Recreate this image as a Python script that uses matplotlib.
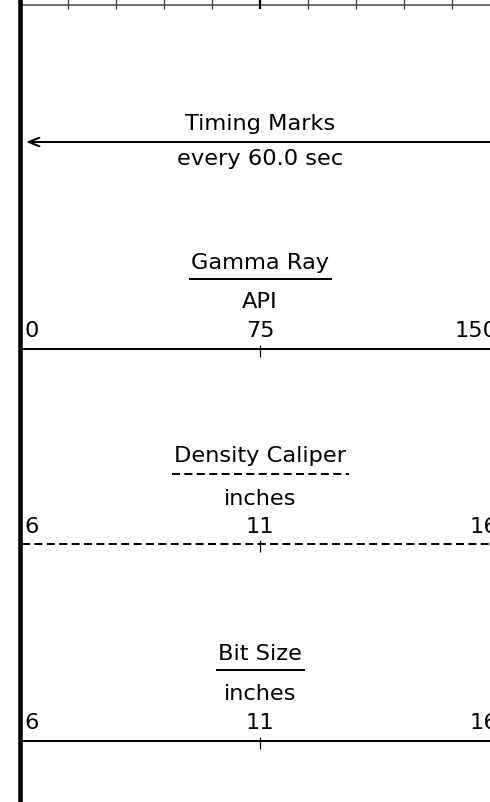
"""Well log header: timing marks and curve scale blocks."""

import matplotlib

matplotlib.use("Agg")
import matplotlib.pyplot as plt

# ---- data -------------------------------------------------------------
CURVE_NAMES = ["Gamma Ray", "Density Caliper", "Bit Size"]
CURVE_UNITS = ["API", "inches", "inches"]
SCALE_LEFT = [0, 6, 6]
SCALE_RIGHT = [150, 16, 16]
CURVE_DASHED = [False, True, False]
TIMING_LABEL = "Timing Marks"
TIMING_INTERVAL_SEC = 60.0
GRID_DIVISIONS = 10

# ---- layout (pixels) --------------------------------------------------
W, H = 490, 803
TRACK_LEFT, TRACK_RIGHT = 20, 500
FONT = 16.2
LW = 1.44  # 2 px at 100 dpi
NAME_Y = [269, 462, 660]
UNDERLINE_Y = [280, 475, 671]
UNIT_Y = [308, 505, 700]
LABEL_Y = [337.5, 533.5, 729.5]
LINE_Y = [349.5, 544.5, 742]
DASHES = (4.0, 2.2)

plt.rcParams["font.family"] = ["DejaVu Sans"]

fig = plt.figure(figsize=(W / 100, H / 100), dpi=100)
ax = fig.add_axes([0, 0, 1, 1])
ax.set_xlim(0, W)
ax.set_ylim(H, 0)
ax.axis("off")

track_w = TRACK_RIGHT - TRACK_LEFT
center = TRACK_LEFT + track_w / 2


def label(x, y, s, ha="center"):
    return ax.text(x, y, s, ha=ha, va="baseline", fontsize=FONT)


# top grid ruler
ax.plot([TRACK_LEFT, W + 10], [5.5, 5.5], color="#5a5a5a", lw=1.2, solid_capstyle="butt")
for i in range(1, GRID_DIVISIONS):
    x = TRACK_LEFT + i * track_w / GRID_DIVISIONS
    major = i == GRID_DIVISIONS // 2
    ax.plot([x, x], [0, 10], color="black" if major else "#3a3a3a",
            lw=1.6 if major else 0.9, solid_capstyle="butt")

# left track border
ax.plot([19.7, 19.7], [0, H], color="black", lw=3.3, solid_capstyle="butt")

# timing marks
label(center, 130, TIMING_LABEL)
ax.annotate("", xy=(26, 143), xytext=(W + 10, 143),
            arrowprops=dict(arrowstyle="->,head_length=0.55,head_width=0.22",
                            lw=LW, color="black", shrinkA=0, shrinkB=0,
                            mutation_scale=14))
label(center, 165, f"every {TIMING_INTERVAL_SEC:.1f} sec")

fig.canvas.draw()
renderer = fig.canvas.get_renderer()
inv = ax.transData.inverted()

for k, name in enumerate(CURVE_NAMES):
    dashed = CURVE_DASHED[k]
    t = label(center, NAME_Y[k], name)
    bb = t.get_window_extent(renderer)
    x0, _ = inv.transform((bb.x0, bb.y0))
    x1, _ = inv.transform((bb.x1, bb.y0))
    (ul,) = ax.plot([x0 - 2, x1 + 3], [UNDERLINE_Y[k]] * 2, color="black", lw=LW,
                    solid_capstyle="butt", dash_capstyle="butt")
    if dashed:
        ul.set_dashes(DASHES)

    label(center, UNIT_Y[k], CURVE_UNITS[k])

    lo, hi = SCALE_LEFT[k], SCALE_RIGHT[k]
    mid = (lo + hi) / 2

    def to_x(v, lo=lo, hi=hi):
        return TRACK_LEFT + (v - lo) / (hi - lo) * track_w

    label(to_x(lo) + 4, LABEL_Y[k], f"{lo:g}", ha="left")
    label(to_x(mid), LABEL_Y[k], f"{mid:g}")
    label(to_x(hi) - 2, LABEL_Y[k], f"{hi:g}", ha="right")

    (ln,) = ax.plot([to_x(lo) + 2, W + 10], [LINE_Y[k]] * 2, color="black", lw=LW,
                    solid_capstyle="butt", dash_capstyle="butt")
    if dashed:
        ln.set_dashes(DASHES)
    ax.plot([to_x(mid)] * 2, [LINE_Y[k] - 4, LINE_Y[k] + 8], color="black", lw=0.9,
            solid_capstyle="butt")

fig.savefig("out.png", dpi=100)
